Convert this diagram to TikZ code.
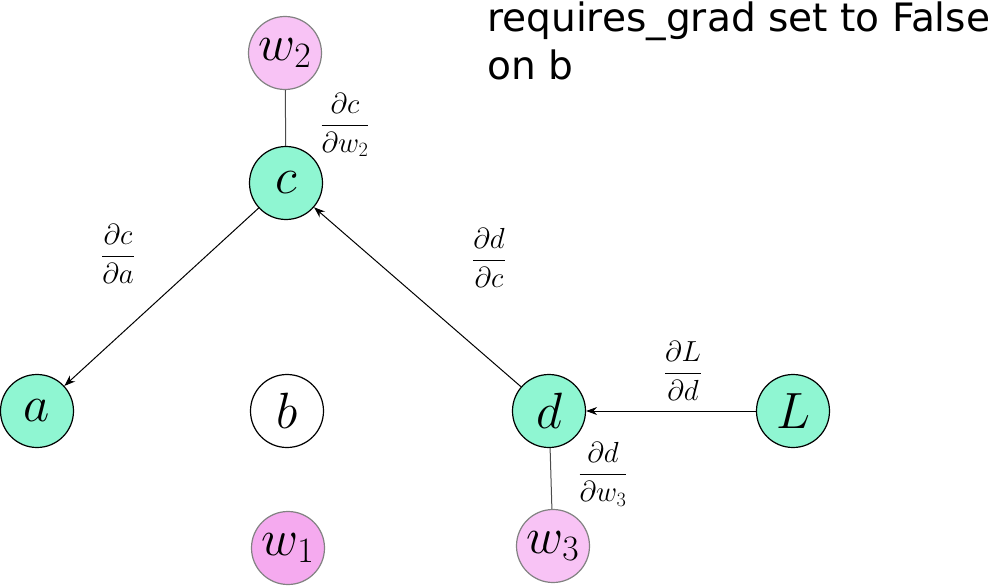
\RequirePackage{fix-cm}
\documentclass[tikz,border=0pt]{standalone}
\usepackage{fontspec}
\newfontfamily\dejavu{DejaVu Sans}
\usetikzlibrary{arrows.meta}
\definecolor{nodegreen}{RGB}{143,246,210}
\definecolor{pinklight}{RGB}{248,195,245}
\definecolor{pinkdark}{RGB}{245,170,239}
\definecolor{pinkborder}{RGB}{130,130,130}
\newcommand{\gradfrac}[2]{$\displaystyle\frac{#1}{#2}$}
\tikzset{
  var/.style={circle, draw=black, line width=1.2pt, minimum size=73pt, inner sep=0pt,
    font=\fontsize{51}{51}\selectfont},
  greenvar/.style={var, fill=nodegreen},
  weightvar/.style={var, draw=pinkborder},
  grad/.style={inner sep=0pt, font=\fontsize{29}{34}\selectfont},
  backarrow/.style={draw=black, line width=1pt, -{Stealth[length=11pt,width=8pt]}},
  link/.style={draw=black!70, line width=1pt},
}
\begin{document}
\begin{tikzpicture}[x=1pt,y=-1pt]
\useasboundingbox (0,0) rectangle (994,586);
\node[weightvar, fill=pinklight] (w2) at (285,53) {$w_2$};
\node[greenvar] (c) at (286,183) {$c$};
\node[greenvar] (a) at (37,411) {$a$};
\node[var, fill=white] (b) at (287,411) {$b$};
\node[greenvar] (d) at (549,411) {$d$};
\node[greenvar] (L) at (793,411) {$L$};
\node[weightvar, fill=pinkdark] (w1) at (288,548) {$w_1$};
\node[weightvar, fill=pinklight] (w3) at (553,546) {$w_3$};

\draw[link] (w2) -- (c);
\draw[link] (d) -- (w3);
\draw[backarrow] (c) -- (a);
\draw[backarrow] (d) -- (c);
\draw[backarrow] (L) -- (d);

\node[grad] (gcw2) at (345,125) {\gradfrac{\partial c}{\partial w_2}};
\node[grad] (gca) at (118,254) {\gradfrac{\partial c}{\partial a}};
\node[grad] (gdc) at (489,258) {\gradfrac{\partial d}{\partial c}};
\node[grad] (gLd) at (683,371) {\gradfrac{\partial L}{\partial d}};
\node[grad] (gdw3) at (603,474) {\gradfrac{\partial d}{\partial w_3}};

\node[anchor=base west, inner sep=0pt, align=left,
  font=\dejavu\fontsize{39.1}{48}\selectfont] (note) at (487,80)
  {requires\_grad set to False\\on b};
\end{tikzpicture}
\end{document}
